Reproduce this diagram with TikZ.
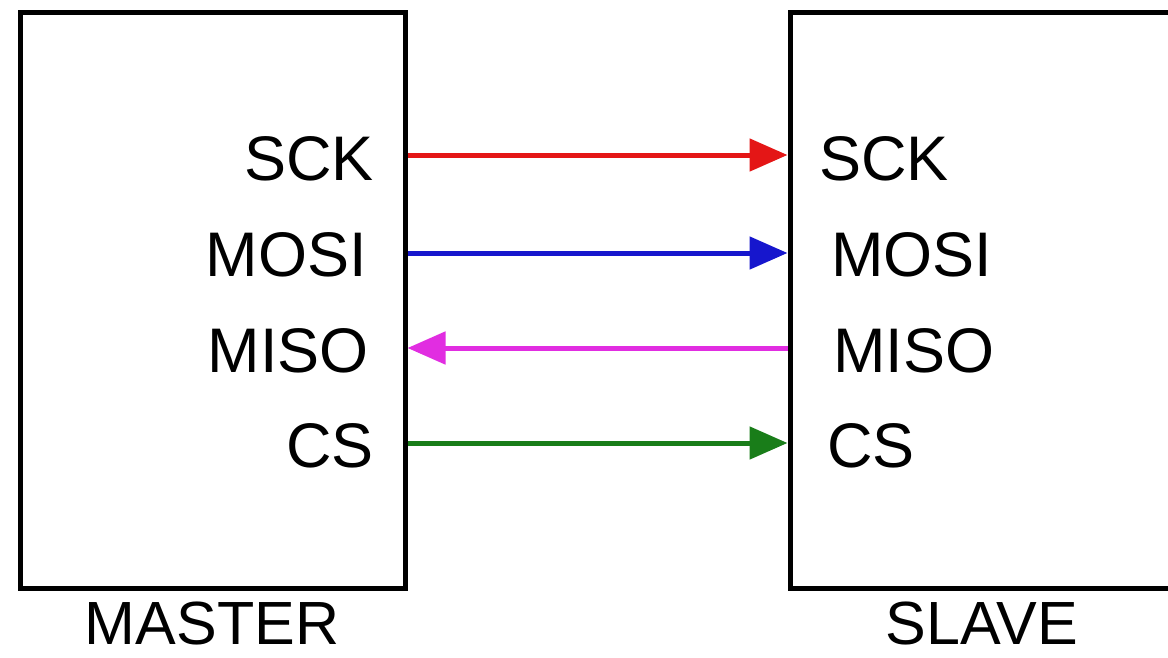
\documentclass[tikz,border=0pt]{standalone}
\usepackage{fontspec}
\setmainfont{Liberation Sans}
\usetikzlibrary{arrows.meta}
\definecolor{sckred}{RGB}{228,22,22}
\definecolor{mosiblue}{RGB}{22,22,205}
\definecolor{misomag}{RGB}{225,45,225}
\definecolor{csgreen}{RGB}{25,125,25}
\begin{document}
\begin{tikzpicture}[x=1pt,y=-1pt,
  box/.style={draw=black,line width=5pt,inner sep=0pt,fill=none},
  lbl/.style={inner sep=0pt,font=\fontsize{63}{70}\selectfont},
  title/.style={inner sep=0pt,font=\fontsize{61}{68}\selectfont},
  sig/.style={line width=5pt,-{Triangle[length=38pt,width=32pt]}}]
\useasboundingbox (0,0) rectangle (1168,657);
\clip (0,0) rectangle (1168,657);
\fill[white] (0,0) rectangle (1168,657);
% boxes
\node[box,minimum width=385pt,minimum height=576pt] (master) at (212.5,300) {};
\node[box,minimum width=460pt,minimum height=576pt] (slave) at (1020,300) {};
% master labels
\node[lbl,anchor=base east] (msck) at (374,180) {SCK};
\node[lbl,anchor=base east] (mmosi) at (367,276) {MOSI};
\node[lbl,anchor=base east] (mmiso) at (369,372) {MISO};
\node[lbl,anchor=base east] (mcs) at (374,467) {CS};
% slave labels
\node[lbl,anchor=base west] (ssck) at (819,180) {SCK};
\node[lbl,anchor=base west] (smosi) at (831,276) {MOSI};
\node[lbl,anchor=base west] (smiso) at (833,372) {MISO};
\node[lbl,anchor=base west] (scs) at (827,467) {CS};
% titles
\node[title,anchor=base] (mt) at (212,644) {MASTER};
\node[title,anchor=base] (st) at (982,644) {SLAVE};
% connectors
\coordinate (a1) at (master.east |- 0,155);
\coordinate (b1) at (slave.west |- 0,155);
\coordinate (a2) at (master.east |- 0,253);
\coordinate (b2) at (slave.west |- 0,253);
\coordinate (a3) at (master.east |- 0,348);
\coordinate (b3) at (slave.west |- 0,348);
\coordinate (a4) at (master.east |- 0,443);
\coordinate (b4) at (slave.west |- 0,443);
\draw[sig,sckred] (a1) -- (b1);
\draw[sig,mosiblue] (a2) -- (b2);
\draw[sig,misomag] (b3) -- (a3);
\draw[sig,csgreen] (a4) -- (b4);
\end{tikzpicture}
\end{document}
